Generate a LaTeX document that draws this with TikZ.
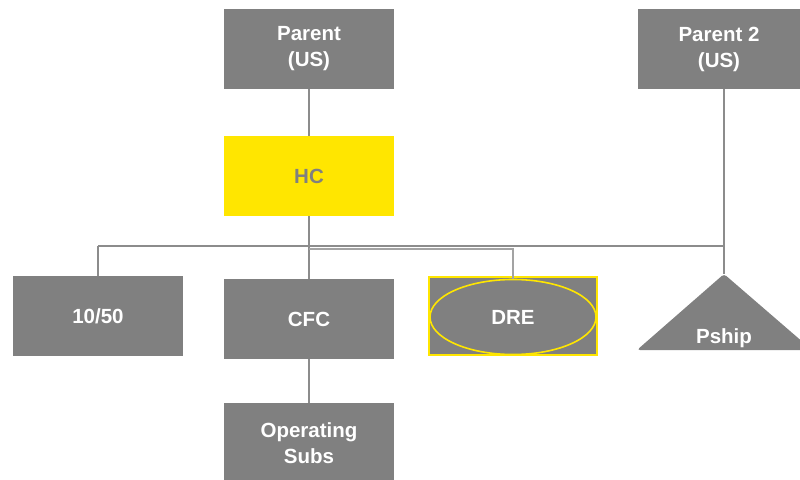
\documentclass[tikz,border=0pt]{standalone}
\usepackage{fontspec}
\setmainfont{Liberation Sans}
\usetikzlibrary{shapes.geometric}
\definecolor{boxgray}{HTML}{808080}
\definecolor{linegray}{HTML}{8C8C8C}
\definecolor{eyyellow}{HTML}{FFE600}
\tikzset{
  ent/.style={rectangle, fill=boxgray, minimum width=170pt, minimum height=80pt, inner sep=0pt,
    text=white, font=\fontsize{20.5}{26}\selectfont\bfseries, align=center},
  conn/.style={draw=linegray, line width=2pt},
}
\begin{document}
\begin{tikzpicture}[x=1pt,y=-1pt]
\useasboundingbox (0,0) rectangle (800,479);
% nodes
\node[ent] (p1) at (309,49) {Parent\\(US)};
\node[ent, minimum width=162pt] (p2) at (719,49) {Parent 2\\(US)};
\node[ent, fill=eyyellow, text=boxgray] (hc) at (309,176) {HC};
\node[ent] (t1050) at (98,316) {10/50};
\node[ent] (cfc) at (309,319) {CFC};
\node[ent, draw=eyyellow, line width=2pt, minimum width=168pt, minimum height=78pt] (dre) at (513,316) {};
\node[ellipse, draw=eyyellow, line width=1.6pt, minimum width=166pt, minimum height=75pt, inner sep=0pt,
  text=white, font=\fontsize{20.5}{26}\selectfont\bfseries] (dreell) at (513,317) {DRE};
\node[ent] (ops) at (309,443) {Operating\\Subs};
% partnership triangle
\coordinate (pshipapex) at (724,274);
\fill[boxgray, rounded corners=3pt] (724,274) -- (812,350) -- (637,350) -- cycle;
\node[text=white, font=\fontsize{20.5}{26}\selectfont\bfseries] (pship) at (724,338) {Pship};
% connectors
\coordinate (busL) at (98,245.5);
\coordinate (busR) at (724,245.5);
\coordinate (bus2L) at (309,248.5);
\coordinate (bus2R) at (513,248.5);
\draw[conn] (p1.south) -- (hc.north);
\draw[conn] (hc.south) -- (cfc.north);
\draw[conn] (busL) -- (busR);
\draw[conn] (busL) -- (t1050.north);
\draw[conn, draw=linegray!80] (bus2L) -- (bus2R) -- (dreell.north);
\draw[conn] (p2.south -| pshipapex) -- (pshipapex);
\draw[conn] (cfc.south) -- (ops.north);
\end{tikzpicture}
\end{document}
